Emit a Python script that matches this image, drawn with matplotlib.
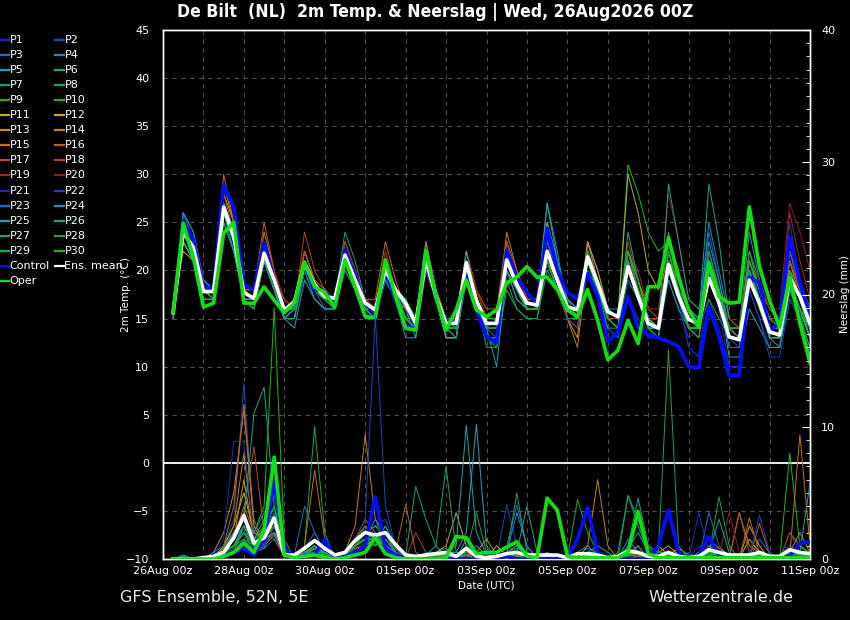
import matplotlib
matplotlib.use("Agg")
import matplotlib.pyplot as plt
from matplotlib.lines import Line2D
from matplotlib.ticker import MultipleLocator, FixedLocator, FixedFormatter
import numpy as np

# ---------------- data (6-hourly, 26Aug 06z .. 11Sep 00z) ----------------
hours = list(range(6, 390, 6))
date_ticks = list(range(0, 385, 48))
date_labels = ["26Aug 00z", "28Aug 00z", "30Aug 00z", "01Sep 00z",
               "03Sep 00z", "05Sep 00z", "07Sep 00z", "09Sep 00z", "11Sep 00z"]

temp_mean = [15.6, 24.0, 22.4,
             17.8, 17.8, 26.6, 23.5, 17.7, 17.1, 21.8, 19.0, 15.9, 16.7, 20.8, 18.5,
             17.3, 17.1, 21.6, 19.0, 16.6, 15.9, 20.1, 18.0, 16.6, 14.5, 21.1, 17.3,
             14.5, 14.5, 20.8, 16.9, 14.5, 14.5, 21.1, 18.5, 16.6, 16.4, 22.0, 19.0,
             16.2, 15.9, 21.4, 18.7, 15.7, 15.2, 20.4, 17.3, 14.5, 14.0, 20.6, 17.3,
             14.9, 14.5, 19.2, 16.6, 13.1, 12.8, 19.0, 16.6, 13.6, 13.3, 19.2, 17.3,
             14.5]
temp_control = [15.6, 25.0, 23.2,
                18.2, 18.2, 28.9, 26.6, 18.5, 18.0, 22.9, 19.0, 15.9, 16.5, 20.5, 18.0,
                17.7, 17.0, 22.1, 19.5, 16.5, 15.5, 20.0, 17.0, 14.1, 14.0, 22.1, 16.9,
                14.8, 14.5, 20.1, 15.9, 13.1, 12.5, 22.1, 19.3, 17.7, 16.5, 24.4, 20.1,
                17.7, 17.0, 19.7, 17.3, 12.6, 13.6, 17.3, 14.1, 13.3, 13.0, 12.6, 12.1,
                10.0, 9.9, 16.2, 13.1, 9.1, 9.1, 19.3, 18.7, 13.8, 14.5, 23.5, 18.7,
                15.2]
temp_oper = [15.6, 24.9, 21.4,
             16.2, 16.6, 23.9, 25.0, 16.6, 16.6, 18.3, 16.9, 15.6, 16.6, 20.8, 18.3,
             17.7, 16.2, 21.1, 18.3, 15.2, 15.1, 21.1, 17.3, 14.0, 13.8, 22.1, 17.3,
             13.8, 15.9, 19.0, 15.9, 15.2, 15.9, 18.7, 19.3, 20.4, 19.3, 19.3, 18.0,
             15.9, 15.2, 18.0, 14.8, 10.7, 11.7, 14.8, 12.4, 18.3, 18.3, 23.4, 19.3,
             15.9, 14.1, 20.8, 17.3, 16.6, 16.7, 26.6, 20.4, 16.9, 14.1, 19.3, 14.5,
             10.4]

temp_members = [
    [15,24,21, 18,18,28,25, 18,17,23,19, 16,16,21,18, 17,17,22,19, 16,15,20,17, 14,14,22,17, 14,14,20,16, 13,13,22,19, 17,16,24,20, 16,15,21,18, 14,13,17,15, 13,13,20,17, 12,11,17,14, 10,10,19,17, 14,13,23,19, 16],
    [16,25,23, 18,18,27,24, 18,18,22,20, 16,17,21,19, 18,17,21,19, 17,16,21,18, 15,15,21,17, 15,14,21,17, 14,15,21,18, 16,16,22,19, 16,16,22,19, 16,15,21,17, 14,13,19,16, 13,14,20,17, 12,12,18,15, 12,12,17,15, 12],
    [15,26,23, 19,18,27,24, 17,17,22,18, 15,16,20,18, 17,17,21,18, 16,16,19,17, 16,14,20,17, 15,15,20,16, 14,13,20,18, 17,17,25,21, 17,16,20,18, 15,15,22,18, 15,14,21,18, 16,15,24,19, 14,13,21,18, 14,14,20,18, 15],
    [16,24,22, 18,17,26,23, 17,16,21,18, 15,16,22,19, 17,16,21,18, 16,16,21,18, 17,15,23,18, 14,14,20,16, 14,14,21,18, 16,16,21,18, 15,15,23,20, 16,16,21,18, 15,14,22,18, 16,15,25,20, 15,14,24,19, 16,15,21,18, 16],
    [15,23,21, 17,17,26,22, 17,17,21,18, 15,14,19,17, 16,16,20,18, 15,15,19,17, 16,13,20,17, 13,13,19,16, 13,13,22,19, 17,17,27,22, 16,16,22,19, 16,15,21,18, 14,14,19,16, 14,14,22,18, 11,11,16,14, 12,12,18,16, 14],
    [16,26,24, 19,18,26,23, 17,17,21,18, 15,15,20,18, 17,17,23,20, 17,16,20,18, 16,15,21,17, 14,15,20,17, 15,15,22,19, 17,17,23,20, 17,16,22,19, 16,15,19,17, 15,14,21,18, 15,15,29,23, 15,14,21,18, 13,13,20,17, 14],
    [15,24,22, 18,18,26,23, 17,16,22,19, 16,17,21,18, 18,17,24,21, 17,16,21,18, 16,15,20,17, 14,14,21,17, 12,12,18,16, 15,15,20,18, 15,15,20,17, 14,13,21,18, 14,14,24,19, 16,15,21,18, 13,13,22,19, 14,13,19,17, 13],
    [16,23,21, 17,17,25,22, 17,16,21,18, 15,16,20,18, 17,17,22,19, 16,16,20,18, 17,15,22,18, 15,14,21,18, 15,15,23,19, 16,16,22,19, 16,15,20,18, 15,14,20,17, 14,14,22,18, 14,14,20,17, 14,13,19,17, 14,13,20,17, 14],
    [15,25,23, 18,17,27,24, 18,17,22,19, 16,16,21,18, 17,17,22,19, 16,16,21,18, 15,14,21,17, 14,14,20,17, 15,15,22,18, 16,16,22,19, 16,15,21,18, 15,14,19,17, 14,13,20,17, 15,14,17,15, 13,13,20,17, 14,14,20,17, 15],
    [16,25,22, 18,18,27,24, 18,17,22,19, 16,17,21,18, 17,17,21,19, 17,16,21,18, 15,15,22,18, 15,15,21,17, 15,15,21,19, 17,17,22,19, 16,16,21,19, 16,15,31,28, 24,22,23,20, 16,15,20,17, 14,14,20,17, 14,13,19,16, 13],
    [16,22,21, 18,18,27,24, 18,17,22,19, 16,17,21,18, 17,17,21,19, 16,16,20,18, 15,14,22,17, 13,13,20,17, 14,14,20,18, 16,16,21,19, 16,16,22,19, 15,15,30,26, 20,18,21,19, 16,15,20,17, 14,13,19,17, 13,13,18,16, 13],
    [15,23,21, 17,17,26,23, 18,17,21,19, 16,16,20,18, 17,17,22,19, 17,16,21,18, 15,15,21,17, 14,14,21,17, 14,14,22,18, 16,16,21,18, 15,14,23,20, 16,15,21,18, 15,15,21,18, 14,13,20,17, 13,13,21,18, 15,14,20,17, 15],
    [16,24,22, 18,18,28,25, 18,18,22,19, 17,16,20,18, 17,17,21,19, 16,16,20,18, 15,14,21,18, 14,13,20,17, 15,15,22,19, 17,16,25,21, 15,13,23,19, 16,15,22,19, 16,15,21,18, 14,14,21,18, 14,13,20,17, 14,14,21,17, 15],
    [15,25,23, 18,18,29,25, 18,17,24,20, 16,16,22,19, 17,17,22,19, 16,16,21,18, 15,14,23,18, 14,14,22,18, 15,15,24,20, 17,16,23,20, 15,12,21,18, 15,15,21,18, 15,14,20,17, 14,14,20,17, 14,14,19,17, 15,15,22,18, 15],
    [16,24,22, 18,18,30,25, 18,17,23,19, 16,16,21,19, 17,17,22,19, 17,17,23,19, 16,15,21,18, 15,15,21,17, 14,14,21,18, 16,16,24,20, 16,15,22,19, 16,15,22,19, 15,14,21,18, 14,14,20,17, 14,14,20,17, 14,14,21,18, 15],
    [16,23,21, 18,18,28,24, 18,18,25,20, 16,16,22,19, 17,17,22,19, 16,16,22,18, 15,14,22,17, 14,14,21,18, 16,16,23,20, 17,16,22,19, 15,14,22,19, 16,15,22,18, 15,14,21,18, 14,14,21,17, 14,13,21,18, 16,15,22,19, 16],
    [15,24,22, 18,17,27,24, 18,17,23,19, 16,17,22,19, 18,17,22,20, 17,16,21,18, 15,14,21,17, 15,15,22,18, 15,15,22,19, 17,17,23,20, 16,15,21,18, 15,15,21,18, 14,14,21,18, 15,14,22,18, 13,13,20,17, 14,14,20,18, 15],
    [16,25,23, 18,18,26,23, 18,17,22,19, 16,16,24,20, 18,17,23,20, 17,16,21,18, 15,15,21,17, 14,14,22,18, 15,15,23,19, 16,16,22,19, 16,15,22,19, 16,15,23,19, 15,15,20,17, 15,14,20,17, 14,14,22,18, 15,15,21,18, 15],
    [15,24,22, 18,18,27,24, 18,17,23,20, 17,16,21,19, 17,17,23,20, 16,16,20,18, 15,14,20,17, 15,15,22,18, 15,15,21,19, 17,16,22,19, 16,16,21,19, 16,15,22,20, 16,16,22,19, 16,15,19,17, 15,14,20,17, 15,14,26,21, 17],
    [16,25,23, 18,18,26,24, 18,17,22,19, 16,16,20,18, 17,17,22,19, 17,16,22,18, 15,15,21,18, 14,14,21,18, 15,15,22,19, 17,16,22,20, 17,16,22,19, 16,15,21,18, 16,15,28,23, 17,16,19,17, 14,13,21,19, 16,16,27,24, 20],
    [15,24,22, 18,18,27,24, 18,17,22,19, 16,16,21,18, 17,17,21,19, 16,16,20,17, 15,14,20,17, 14,14,20,17, 15,15,21,19, 16,16,21,18, 15,14,20,17, 14,13,21,17, 13,13,21,17, 12,11,20,16, 10,10,20,17, 13,12,25,19, 16],
    [16,25,23, 18,18,26,23, 17,17,22,19, 15,16,21,18, 17,16,21,18, 16,16,21,17, 15,14,21,17, 14,13,20,17, 14,14,22,18, 16,16,23,19, 17,16,21,18, 16,15,19,17, 15,14,20,17, 15,15,22,18, 13,12,18,15, 11,11,17,15, 12],
    [16,24,22, 18,18,27,24, 18,17,22,19, 16,16,21,18, 16,16,21,18, 16,16,21,18, 15,14,21,17, 14,14,21,17, 14,14,20,17, 16,16,23,20, 17,16,21,18, 15,14,20,17, 14,13,22,18, 16,15,20,17, 12,12,21,17, 14,13,22,18, 14],
    [15,26,24, 19,18,26,23, 17,17,21,18, 15,16,21,18, 17,17,21,18, 16,15,20,18, 15,14,21,17, 14,14,21,17, 13,13,21,18, 16,16,22,19, 16,15,22,19, 15,14,22,18, 14,14,21,18, 14,14,23,19, 14,13,20,17, 14,13,18,16, 14],
    [16,24,22, 18,18,26,23, 17,17,21,18, 15,15,20,17, 16,16,21,18, 16,15,20,17, 13,13,21,17, 13,13,22,17, 14,10,20,17, 16,16,27,21, 17,16,21,18, 15,14,21,17, 14,14,20,17, 15,14,21,18, 13,13,19,17, 13,13,18,16, 13],
    [16,25,23, 18,17,25,22, 17,16,21,18, 15,15,21,18, 17,17,21,19, 16,16,21,17, 15,14,22,17, 14,14,21,17, 15,15,21,18, 16,16,21,18, 16,15,20,18, 15,14,24,19, 15,14,29,23, 17,16,19,17, 13,13,20,17, 14,14,19,17, 15],
    [15,23,21, 17,17,26,23, 17,16,21,18, 15,15,21,18, 17,17,22,19, 16,15,20,17, 15,14,21,17, 14,13,19,16, 13,12,19,16, 15,15,21,18, 16,15,21,18, 14,14,22,18, 15,14,20,17, 14,14,21,17, 13,13,19,16, 13,12,18,15, 12],
    [16,24,22, 18,18,26,23, 18,17,22,19, 16,16,21,18, 17,17,21,18, 16,16,21,18, 15,15,21,17, 14,14,20,17, 14,14,21,18, 16,16,21,18, 16,16,21,18, 15,14,20,17, 14,13,20,17, 14,14,22,18, 13,13,20,17, 14,14,19,16, 14],
    [15,25,23, 18,18,27,24, 18,17,22,19, 16,16,21,18, 17,17,22,19, 16,16,20,18, 15,14,22,17, 14,14,20,17, 15,15,22,18, 16,16,22,19, 17,15,22,18, 15,14,20,18, 15,14,21,18, 14,13,20,17, 13,13,22,18, 15,14,19,16, 11],
    [16,24,22, 18,18,26,24, 18,17,22,19, 16,16,20,18, 17,16,21,18, 16,16,21,18, 15,15,21,17, 15,15,21,17, 15,15,22,19, 16,16,21,18, 16,15,21,18, 16,15,22,19, 15,14,22,18, 14,14,21,18, 14,14,21,18, 14,13,20,17, 14],
]

precip_mean = [0.0, 0.0, 0.0,
               0.1, 0.2, 0.5, 1.6, 3.3, 1.2, 1.6, 3.1, 0.3, 0.3, 0.8, 1.4,
               0.8, 0.3, 0.5, 1.4, 2.0, 1.8, 2.0, 1.1, 0.3, 0.2, 0.3, 0.4,
               0.5, 0.2, 0.8, 0.2, 0.1, 0.2, 0.4, 0.5, 0.3, 0.3, 0.3, 0.3,
               0.1, 0.4, 0.4, 0.3, 0.1, 0.2, 0.6, 0.5, 0.2, 0.2, 0.5, 0.2,
               0.1, 0.2, 0.7, 0.5, 0.3, 0.3, 0.3, 0.5, 0.2, 0.2, 0.7, 0.5,
               0.4]
precip_control = [0, 0, 0,
                  0, 0, 0.3, 0.5, 0.8, 0.3, 1.5, 5.8, 1.0, 0, 0.2, 0.3,
                  1.5, 0, 0.2, 0.5, 1.0, 4.7, 0.8, 0.3, 0.1, 0, 0, 0,
                  0, 0, 0, 0, 0, 0, 0.2, 0, 0, 0, 0, 0,
                  0, 1.5, 3.9, 0.5, 0, 0, 0, 0, 0, 1.0, 3.7, 0.5,
                  0, 0.3, 1.7, 0.3, 0, 0, 0, 0, 0, 0.2, 0.2, 1.2,
                  1.3]
precip_oper = [0, 0, 0,
               0, 0, 0.2, 0.5, 1.2, 0.5, 2.2, 7.7, 0.3, 0.1, 0.2, 0.3,
               0.1, 0, 0.1, 0.3, 0.5, 1.6, 0.4, 0.1, 0, 0, 0, 0,
               0.1, 1.7, 1.6, 0.4, 0.5, 0.5, 0.9, 1.3, 0.2, 0.1, 4.6, 3.7,
               0.2, 0.1, 0.1, 0.1, 0.1, 0.1, 0.5, 3.6, 0.4, 0.1, 0.1, 0.1,
               0.1, 0.1, 0.1, 0.1, 0.1, 0.1, 0.1, 0.1, 0.1, 0.1, 0.1, 0.1,
               0.1]

precip_members = [
    [0,0,0, 0,0,0.5,1.0, 2.5,0.8,1.2,2.0, 0.3,0,0.5,0.8, 0.2,0,0.3,1.0, 1.5,2.0,1.2,0.5, 0,0,0.2,0.3, 0.5,0,0.3,0, 0,0,0.5,0.3, 0,0.2,0,0.2, 0,0,0.3,0, 0,0,0.5,0.3, 0,0,0.2,0, 0,1.0,0.5,0.2, 0,0,0,0.3, 0.2,0,0.3,0.2, 0],
    [0,0,0, 0,0.2,1.0,3.0, 13.3,2.0,1.5,3.0, 0.5,0,0.3,0.5, 0.3,0,0,0.8, 1.0,2.5,3.0,1.0, 0.2,0,0,0, 0,0,0.5,0.3, 0,0,4.1,1.0, 0.3,0,0,0, 0,0,0.5,0.3, 0,0,0.2,0, 0,0.3,0,0, 0,0.5,0.3,0, 0,0,0,0, 0,0.3,1.0,0.5, 0.2],
    [0,0,0, 0,0,0.3,0.8, 2.0,1.0,0.8,1.5, 0.2,0,0.8,2.0, 0.5,0,0.2,0.5, 1.0,1.5,2.5,0.8, 0,0,0,0.5, 0.3,0,0,0, 0,0.3,1.0,0.5, 0.2,0,0.5,0, 0,0.3,0.8,0.5, 0,0,0.3,0.5, 0,0,0,0, 0.5,0,3.5,1.0, 0.2,0,0,1.5, 0.5,0,0.3,0, 0],
    [0,0,0, 0,0,0.2,0.5, 1.5,0.5,1.0,1.8, 0.3,0.2,0.5,1.0, 0.3,0,0.3,1.0, 2.0,1.5,1.0,0.5, 0.2,0,0.3,0.5, 0.8,0.2,0.5,1.0, 0.3,0,0.5,0.8, 0.5,0.2,0,0, 0,0.5,1.0,0.3, 0,0,0.3,0.2, 0,0,0.2,0, 0,0,0.5,0.3, 0,0,0,0.5, 0.3,0.2,0.5,0.3, 0.2],
    [0,0.3,0, 0,0,0.5,1.0, 2.0,0.5,0.8,2.5, 0.3,0,0.2,0.5, 0.2,0,0,0.5, 1.2,1.8,1.0,0.3, 0,0,0,0.3, 0.5,0.5,2.0,10.2, 1.0,0,0.3,0.5, 0.2,0,0,0, 0,0,0.5,1.0, 0.5,0,0.8,2.0, 0.5,0,0,0, 0,0,0.3,0.5, 0,0,0,0, 0.3,0,0.5,0.5, 5.7],
    [0,0,0, 0,0,0.5,1.5, 3.0,1.0,2.5,4.0, 0.5,0,0.5,1.0, 0.3,0,0.3,1.5, 2.0,2.5,1.5,0.5, 0,0,0,0.2, 0.3,0,0.5,0.2, 0,0,0.3,0.5, 4.0,0.5,0,0, 0,0,0.3,0.5, 0.2,0,1.0,4.6, 1.0,0,0,0, 0,0,0.3,0.5, 0,0,0.5,0, 0,0,2.0,1.0, 0.5],
    [0,0,0, 0,0,0.2,0.5, 2.5,1.5,3.0,3.0, 0.3,0,0.3,0.8, 0.5,0,0,1.0, 1.5,1.0,2.5,1.0, 0.2,5.5,3.0,1.0, 0.2,0,0,0, 0,0,0.5,1.0, 0.5,0,0,0, 0,0,0.3,0, 0,0.5,4.8,2.5, 0.5,0,0.3,0, 0,0,0.2,0.5, 0,0,0,0.3, 0,0,0.5,0.3, 0],
    [0,0,0, 0,0,0.5,1.0, 2.0,1.0,2.0,3.5, 0.5,0,0.5,1.0, 0.3,0,0.5,1.0, 1.5,1.5,2.0,0.8, 0.3,0,0,0, 0,0,0,0.5, 0,0,0.5,1.0, 0.3,0,0,0.3, 0,0,0.5,0.3, 0,0,0.3,0.5, 0,0,0.2,0, 0,0,0.3,4.7, 1.0,0,0.3,0.5, 0,0,0.3,0.5, 0.3],
    [0,0,0, 0,0.3,0.8,2.0, 3.0,1.5,2.0,4.0, 0.5,0,1.0,10.0, 2.0,0,0.3,1.0, 2.5,1.5,1.0,0.3, 0,0,0,0.3, 0.5,0,0,0, 0,0,0.3,0.3, 0,0,0.5,0, 0,4.5,2.0,0.5, 0,0,0.3,0.2, 0,0,0,0, 0,0,0.3,0.5, 0.3,0,0,0, 0,0,0.5,0.3, 0],
    [0,0,0, 0,0,0.5,1.5, 3.0,2.0,4.0,19.0, 1.5,0,0.5,0.5, 0.2,0,0.3,1.5, 2.0,2.5,2.0,0.5, 0,0,0,0.2, 0.3,0,0.5,0.3, 0,0,0.5,0.3, 0,0,0.3,0, 0,0,0.5,0.3, 0,0,0.2,0.5, 0,0,0,0, 0,0,0.3,0.5, 0,0,0,0.3, 0,0,8.0,1.0, 0.3],
    [0,0,0, 0,0,1.0,2.5, 5.0,2.0,1.5,2.5, 0.3,0,0.5,1.0, 0.5,0,0,1.0, 1.5,1.0,1.5,0.5, 0,0,0.3,0.5, 1.0,3.5,1.0,0.5, 0,1.0,0.3,0.2, 0,0,0,0.3, 0,0,0.3,0.3, 0,0,0.5,0.3, 0,1.0,0.3,0, 0,0.5,1.5,0.8, 0.3,0,1.5,0.5, 0,0,0.3,0.5, 0],
    [0,0,0, 0,0,0.5,1.5, 6.0,1.5,1.0,2.0, 0.3,0,0.3,0.8, 0.5,0,0.3,0.8, 1.0,1.5,1.0,0.3, 0,0,0,0.3, 0,0,0.5,0.3, 0,0,0.3,0.5, 0.3,0,0,0, 0,0,0.5,0.3, 0,0,0.3,0, 0,0.5,1.0,0.3, 0,0,0.5,0.3, 0,0,2.5,1.0, 0,0,0.3,0.5, 0.3],
    [0,0,0, 0,0.5,2.0,5.0, 11.3,2.5,1.0,2.0, 0.3,0,0.5,1.0, 0.3,0,0.3,1.0, 2.0,1.5,1.0,0.3, 0,0,0,0.3, 0.2,0,0.3,0.5, 1.5,0.3,0,0, 0,0,0.3,0, 0,0,0.3,0.5, 0,0,0.5,0.3, 0,0,0.3,0.8, 0.3,0,0.5,0.3, 0,0,0,0, 0.3,0,0.5,0.3, 0],
    [0,0,0, 0,0,0.8,2.5, 8.0,1.5,1.0,2.0, 0.5,0,0.3,0.8, 0.5,0,0.5,2.5, 9.4,3.0,2.0,0.5, 0,0,0,0.3, 0,0,0.3,0, 0,0,0.2,0.5, 0.3,0,0,0, 0,0,1.0,6.0, 1.0,0,0.3,0.2, 0,0,0.3,0, 0,0,0.5,0.3, 0,3.5,1.0,0.5, 0,0.3,0.5,2.0, 0.5],
    [0,0,0, 0,0,0.5,1.5, 4.0,2.0,1.5,3.0, 0.5,0,1.0,6.7, 1.5,0,0.5,1.5, 2.5,1.5,1.0,0.3, 0,0,0,0.2, 0,0,0.3,0.5, 0,0,0.2,0.3, 0,0,0,0, 0,0,0.3,0.5, 0,0,0.3,0.5, 0,0,0.2,0.3, 0,0,0.3,0.5, 0,0,3.1,0.5, 0,0,0.3,9.4, 1.0],
    [0,0,0, 0,0,1.0,4.0, 11.7,3.0,1.0,2.0, 0.3,0,0.5,0.8, 0.3,0,0.3,1.0, 1.5,1.0,1.5,0.5, 4.1,0.5,0,0.3, 0,0,0.3,0, 0,0,0.3,0.5, 0,0,0,0, 0,0,0.5,0.5, 0,0,0.3,0, 0,0,0.5,0.3, 0,0,0.3,0.3, 0,0,0,2.7, 0.3,0,0.5,0.3, 0],
    [0,0,0, 0,0,0.5,2.0, 3.5,8.5,2.0,1.5, 0.3,0,0.3,0.8, 0.3,0,0.3,1.0, 2.0,1.5,1.0,0.3, 0,0,0,0.2, 0,0,0.5,0.3, 0,0,0.3,0, 0,0,0.3,0, 0,0,0.5,0.5, 0,0,0.3,0.2, 0,0,0.3,0.2, 0,0,0.5,0.3, 0,3.5,0.5,0.3, 0,0,0.3,0.5, 0.2],
    [0,0,0, 0,0,0.5,1.0, 2.0,1.0,2.0,2.5, 0.3,0,0.3,0.5, 0.5,0,0.5,1.5, 3.0,2.0,1.5,0.5, 0,2.0,0.5,0, 0,0,0.3,0, 0,0,0.3,0.5, 0,0,0.3,0, 0,0,0.5,0.3, 0,0,0.5,1.0, 0,0,0,0.3, 0,0,0.3,0.5, 0,0,0,0.3, 0,0,0.5,0.3, 0],
    [0,0,0, 0,0,0.3,1.0, 2.5,1.0,1.5,3.0, 0.3,0,0.3,0.5, 0.3,0,0.5,1.0, 2.0,1.5,1.0,0.3, 0,0,0,0.3, 0,0,0.2,0, 0,0,0.3,0.5, 0,0,0.2,0, 0,0,0.3,0.3, 0,0,0.3,0, 0,0,0.3,0, 0,0,1.0,0.5, 0,0,0.3,0.2, 0,0,2.0,0.5, 0],
    [0,0,0, 0,0,0.5,1.0, 2.0,1.5,1.0,2.0, 0.5,0,0.3,0.5, 0.3,0,0.3,0.8, 1.5,1.0,2.0,0.5, 0,0,0,0.3, 0,0,0.5,0.3, 0,0,0.3,0, 0,0,0.3,0, 0,0,0.3,0.3, 0,0,0.3,1.0, 0,0,0.3,0, 0,0,0.5,0.3, 3.5,0.5,0.3,0, 0,0,0.5,0.3, 0],
    [0,0,0, 0,0.3,1.5,8.9, 8.9,1.5,1.0,2.5, 0.3,0,0.5,1.0, 0.3,0,0.3,1.0, 1.5,2.0,1.0,0.5, 0,0,0,0.3, 0,0,0.3,0, 0,0,0.5,0.3, 0,0,0.3,0, 0,0,0.3,0.5, 0,0,0.3,0.3, 0,0,0.3,0, 0,3.5,0.5,0.3, 0,0,0.3,0.5, 0,0,0.5,0.3, 0],
    [0,0,0, 0,0,0.5,1.5, 3.0,1.0,1.0,3.5, 0.5,0,0.5,0.5, 0.3,0,0.5,1.5, 3.0,18.4,4.0,1.0, 0,0,0,0.3, 0,0,0.3,0, 0,0,0.5,0.5, 0.3,0,0,0, 0,0,0.3,0.3, 0,0,0.3,0, 0,0,0.3,0, 0,0,0.5,0.3, 0,0,0.3,3.3, 0.5,0,0.3,0.5, 0.3],
    [0,0,0, 0,0.5,1.0,2.0, 3.0,1.5,2.0,3.0, 0.5,0.3,4.0,2.0, 0.5,0,0.3,1.5, 2.0,1.5,1.0,0.5, 0,0,0.5,0.5, 0.3,0,1.0,0.5, 0,0.5,1.0,4.1, 1.0,0,0,0, 0,0,0.3,0.5, 0,0,0.3,0.5, 0,0,0.3,0, 0,0,1.0,0.5, 0,0,0.3,0.5, 0,0,0.3,0.5, 0.5],
    [0,0,0, 0,0,0.5,1.0, 2.5,2.0,3.5,3.0, 0.3,0,0.5,1.0, 0.5,0,0.3,1.0, 1.5,3.0,1.5,0.5, 0,0,0,0.3, 0.5,0,1.5,0.5, 0,0,0.5,3.5, 1.0,0,0,0, 0,0,0.5,0.3, 0,0,1.5,0.5, 0,0,0.3,0, 0,0,0.3,0.5, 0,0,0.3,0.3, 0,0,0.3,0.5, 0.3],
    [0,0,0, 0,0,0.5,1.0, 2.5,1.0,1.5,2.0, 0.3,0,0.3,0.5, 0.5,0,0.3,0.5, 1.0,1.5,1.0,0.3, 0,0,0,0.3, 0.5,1.0,10.1,2.0, 0.3,0,0.3,0.5, 0,0,0,0, 0,0,0.3,0.3, 0,0,0.3,1.0, 0,0.5,0.5,0, 0,0,0.3,0.5, 0,0,0.3,0, 0,0,0.5,0.3, 0],
    [0,0.2,0, 0,0,0.5,2.0, 3.0,11.0,13.0,4.0, 0.5,0,0.3,1.0, 0.3,0,0.3,1.0, 1.5,1.0,2.0,0.5, 0,0,0,0.3, 0.3,0,0.3,0, 0,0,0.3,0.5, 0,0,0,0, 0,0,0.5,0.3, 0,0,0.3,0.5, 0,0,0.3,0, 0,0,0.5,3.0, 0.5,0,0.3,0.3, 0,0,0.5,0.3, 0],
    [0,0,0, 0,0,0.5,1.0, 2.0,1.0,1.5,3.0, 0.5,0,0.5,1.0, 0.3,0,0.3,1.0, 1.5,2.0,1.0,0.3, 0,0,0.3,1.0, 7.0,0.5,0.5,0.3, 0,0,0.3,5.0, 0.5,0,0,0, 0,0,0.5,0.5, 0,0,0.3,0.5, 0,0,0.3,0, 0,0,0.3,0.5, 0,0,0,0.3, 0,0,0.3,0.5, 0],
    [0,0,0, 0,0,0.5,1.5, 2.5,1.0,2.0,2.5, 0.3,0,0.3,0.8, 0.3,0,0.3,1.0, 2.0,1.5,1.0,0.3, 0,0,0,0.3, 0,0,0.5,3.5, 0.5,0,0.3,0.5, 0,0,0,0, 0,0,0.3,0.5, 0,0,4.8,3.0, 1.0,0.5,15.8,1.0, 0,0,0.3,0.5, 0,0,0,0.3, 0,0,0.5,0.5, 0.3],
    [0,0,0, 0,0,0.5,1.0, 2.0,1.5,2.5,5.0, 0.5,0,0.3,0.8, 0.3,0,0.3,1.0, 1.5,1.5,1.0,0.3, 0,0,0,0.3, 0.5,0,0.3,0, 0,0,0.3,0.5, 0,0,0,0, 0,0,0.3,0.5, 0,0,0.3,0.5, 0,0,0.3,0, 0,0,0.5,0.3, 0,0,0.3,0.3, 0,0,0.5,0.3, 0],
    [0,0,0, 0,0,0.5,1.0, 1.5,1.0,1.5,3.0, 0.3,0,0.3,0.5, 0.3,0,0.3,1.0, 1.5,1.5,1.0,0.3, 0,0,0,0.3, 0,0,0.3,0, 0,0,0.3,0.3, 0,0,0,0, 0,0,0.3,0.3, 0,0,0.3,0.3, 0,0,0,0, 0,0,0.5,0.3, 0,0,0.3,0.3, 0,0,0.3,0.3, 0],
]

member_names = ["P%d" % i for i in range(1, 31)]
member_palette = ["#1a2bc8", "#1448c0", "#1670c8", "#1890c8", "#14a8b8",
                  "#10a890", "#10a868", "#10a850", "#10b030", "#10c010",
                  "#b8b010", "#c8a010", "#c89010", "#c88010", "#c87010",
                  "#c06010", "#b85010", "#b84018", "#a82818", "#981818"]

# ---------------- figure ----------------
W, H = 850, 620
fig = plt.figure(figsize=(W / 100, H / 100), dpi=100, facecolor="black")
ax = fig.add_axes([163 / W, 1 - 559 / H, (810 - 163) / W, (559 - 30) / H])
ax.set_facecolor("black")
ax2 = ax.twinx()

ax.set_xlim(0, 384)
ax.set_ylim(-10, 45)
ax2.set_ylim(0, 40)

grid_kw = dict(color="#505050", lw=0.8, ls=(0, (4, 4)))
ax.xaxis.set_major_locator(FixedLocator(date_ticks))
ax.xaxis.set_major_formatter(FixedFormatter(date_labels))
ax.xaxis.set_minor_locator(MultipleLocator(24))
ax.grid(True, which="both", axis="x", **grid_kw)
ax.yaxis.set_major_locator(MultipleLocator(5))
ax.grid(True, which="major", axis="y", **grid_kw)
ax.axhline(0, color="white", lw=1.3, zorder=1.9)

for sp in list(ax.spines.values()) + list(ax2.spines.values()):
    sp.set_color("white")
    sp.set_linewidth(1.0)

ax.tick_params(axis="x", which="both", length=0, colors="white", labelsize=8, pad=5)
ax.tick_params(axis="y", which="both", length=0, colors="white", labelsize=8, pad=10)
ax2.yaxis.set_major_locator(MultipleLocator(10))
ax2.yaxis.set_minor_locator(MultipleLocator(1))
ax2.tick_params(axis="y", which="major", direction="in", length=6, colors="white",
                labelsize=8, pad=8)
ax2.tick_params(axis="y", which="minor", direction="in", length=3, colors="white")

ax.set_xlabel("Date (UTC)", color="white", fontsize=7.5, labelpad=3)
ax.set_ylabel("2m Temp. (°C)", color="white", fontsize=7.5)
ax.yaxis.set_label_coords((131 - 163) / 647, 0.5)
ax2.set_ylabel("Neerslag (mm)", color="white", fontsize=7.5)
ax2.yaxis.set_label_coords((840 - 163) / 647, 0.5)

# temperature
for i, vals in enumerate(temp_members):
    ax.plot(hours, vals, color=member_palette[i % 20], lw=0.7, zorder=2)
ax.plot(hours, temp_control, color="#0010ff", lw=2.6, zorder=3)
ax.plot(hours, temp_mean, color="white", lw=2.6, zorder=4)
ax.plot(hours, temp_oper, color="#10e010", lw=2.6, zorder=5)

# precipitation
for i, vals in enumerate(precip_members):
    ax2.plot(hours, vals, color=member_palette[i % 20], lw=0.7, zorder=2)
ax2.plot(hours, precip_control, color="#0010ff", lw=2.6, zorder=3)
ax2.plot(hours, precip_mean, color="white", lw=2.6, zorder=4)
ax2.plot(hours, precip_oper, color="#10e010", lw=2.6, zorder=5)

# legend (two columns, left outside the plot)
leg_names = member_names + ["Control", "Ens. mean", "Oper"]
leg_colors = [member_palette[i % 20] for i in range(30)] + ["#0010ff", "white", "#10e010"]
for k, (nm, col) in enumerate(zip(leg_names, leg_colors)):
    row, colm = divmod(k, 2)
    x0 = 0 if colm == 0 else 55
    yp = 40 + row * 15.05
    fig.add_artist(Line2D([x0 / W, (x0 + 9) / W], [1 - yp / H, 1 - yp / H],
                          transform=fig.transFigure, color=col, lw=1.6))
    fig.text((x0 + 9.5) / W, 1 - yp / H, nm, color="white", fontsize=8,
             va="center", ha="left")

fig.text(435 / W, 1 - 12 / H, "De Bilt  (NL)  2m Temp. & Neerslag | Wed, 26Aug2026 00Z",
         color="white", fontsize=12.6, fontweight="bold", fontstretch="condensed",
         ha="center", va="center")
fig.text(120 / W, 1 - 598 / H, "GFS Ensemble, 52N, 5E", color="#e8e8e8",
         fontsize=11.5, ha="left", va="center")
fig.text(793 / W, 1 - 598 / H, "Wetterzentrale.de", color="#e8e8e8",
         fontsize=11.5, ha="right", va="center")

fig.savefig("out.png", dpi=100, facecolor="black")
